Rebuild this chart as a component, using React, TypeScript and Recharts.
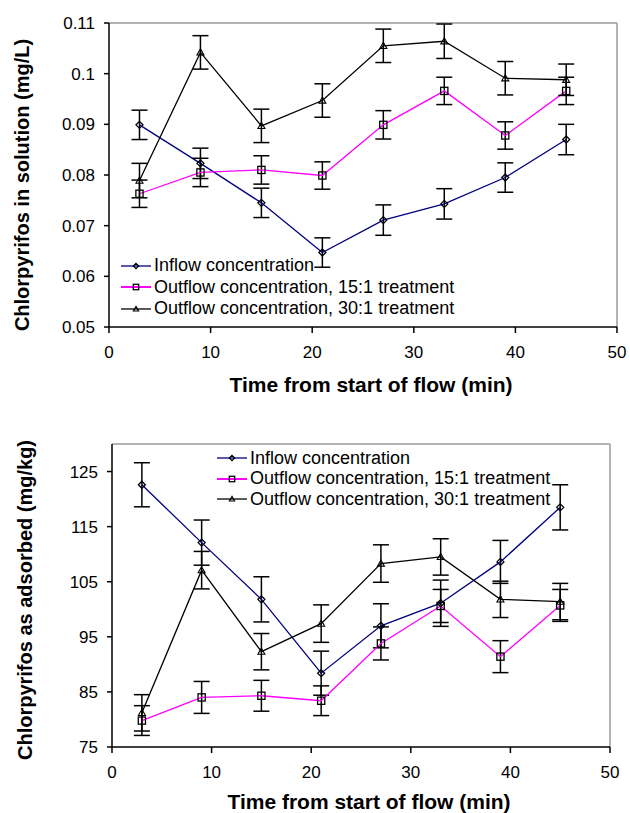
import { LineChart, Line, XAxis, YAxis, ErrorBar, ReferenceLine, Legend } from 'recharts';

const FONT = '"Liberation Sans", Arial, Helvetica, sans-serif';

// sampling times (min)
const times = [3, 9, 15, 21, 27, 33, 39, 45];
const xTicks = [0, 10, 20, 30, 40, 50];

// chlorpyrifos in solution (mg/L)
const solInflow = [0.0899, 0.0823, 0.0745, 0.0647, 0.0711, 0.0743, 0.0795, 0.087];
const solInflowErr = [0.0029, 0.003, 0.0029, 0.0029, 0.003, 0.003, 0.0029, 0.003];
const sol15 = [0.0763, 0.0805, 0.081, 0.0799, 0.0899, 0.0966, 0.0878, 0.0966];
const sol15Err = [0.0027, 0.0028, 0.0028, 0.0027, 0.0028, 0.0027, 0.0027, 0.0027];
const sol30 = [0.0789, 0.1042, 0.0897, 0.0947, 0.1055, 0.1064, 0.0991, 0.0988];
const sol30Err = [0.0034, 0.0033, 0.0033, 0.0033, 0.0033, 0.0034, 0.0033, 0.0031];
const solTicks = [0.05, 0.06, 0.07, 0.08, 0.09, 0.1, 0.11];

// chlorpyrifos as adsorbed (mg/kg)
const adsInflow = [122.6, 112.1, 101.8, 88.4, 97.0, 101.1, 108.6, 118.5];
const adsInflowErr = [4.0, 4.1, 4.1, 4.0, 4.0, 4.2, 3.9, 4.1];
const ads15 = [79.8, 84.0, 84.3, 83.4, 93.8, 100.6, 91.4, 100.7];
const ads15Err = [2.7, 2.9, 2.8, 2.7, 3.0, 3.0, 2.9, 2.9];
const ads30 = [81.2, 107.1, 92.3, 97.4, 108.3, 109.5, 101.8, 101.4];
const ads30Err = [3.3, 3.4, 3.3, 3.4, 3.4, 3.3, 3.3, 3.3];
const adsTicks = [75, 85, 95, 105, 115, 125];

const seriesDefs = [
  { key: 'inflow', name: 'Inflow concentration', color: '#000080', marker: 'diamond' },
  { key: 'out15', name: 'Outflow concentration, 15:1 treatment', color: '#ff00ff', marker: 'square' },
  { key: 'out30', name: 'Outflow concentration, 30:1 treatment', color: '#000000', marker: 'triangle' },
];

const solData = times.map((t, i) => ({
  t,
  inflow: solInflow[i], inflowErr: solInflowErr[i],
  out15: sol15[i], out15Err: sol15Err[i],
  out30: sol30[i], out30Err: sol30Err[i],
}));

const adsData = times.map((t, i) => ({
  t,
  inflow: adsInflow[i], inflowErr: adsInflowErr[i],
  out15: ads15[i], out15Err: ads15Err[i],
  out30: ads30[i], out30Err: ads30Err[i],
}));

function Marker({ cx, cy, type, s = 1 }: { cx: number; cy: number; type: string; s?: number }) {
  if (cx == null || cy == null) return null;
  if (type === 'diamond') {
    const r = 3.5 * s;
    return <path d={`M${cx},${cy - r}L${cx + r},${cy}L${cx},${cy + r}L${cx - r},${cy}Z`} fill="none" stroke="#000" strokeWidth={1.3} />;
  }
  if (type === 'square') {
    const r = 3.6 * s;
    return <rect x={cx - r} y={cy - r} width={2 * r} height={2 * r} fill="none" stroke="#000" strokeWidth={1.3} />;
  }
  const r = 3.5 * s;
  return <path d={`M${cx},${cy - r}L${cx + r},${cy + r * 0.75}L${cx - r},${cy + r * 0.75}Z`} fill="none" stroke="#000" strokeWidth={1.1} />;
}

function LegendBox({ iconW, rowH }: { iconW: number; rowH: number }) {
  return (
    <div style={{ fontFamily: FONT, fontSize: 18, color: '#000' }}>
      {seriesDefs.map((s) => (
        <div key={s.key} style={{ display: 'flex', alignItems: 'center', height: rowH, whiteSpace: 'nowrap' }}>
          <svg width={iconW} height={12} style={{ display: 'block' }}>
            <line x1={0} y1={6} x2={iconW} y2={6} stroke={s.color} strokeWidth={s.key === 'out15' ? 2 : 1.3} />
            <Marker cx={iconW / 2} cy={6} type={s.marker} s={0.75} />
          </svg>
          <span style={{ marginLeft: 3 }}>{s.name}</span>
        </div>
      ))}
    </div>
  );
}

type PanelProps = {
  data: any[];
  width: number;
  height: number;
  margin: { top: number; right: number; bottom: number; left: number };
  xAxisHeight: number;
  yDomain: [number, number];
  yTicks: number[];
  yTitle: string;
  yTitlePos: [number, number];
  xTitlePos: [number, number];
  legendPos: { left: number; top: number; iconW: number; rowH: number };
};

function Panel(p: PanelProps) {
  const axisStyle = { stroke: '#000', strokeWidth: 1.5 };
  return (
    <LineChart width={p.width} height={p.height} data={p.data} margin={p.margin}>
      <XAxis
        dataKey="t"
        type="number"
        domain={[0, 50]}
        ticks={xTicks}
        height={p.xAxisHeight}
        tickSize={6}
        tickMargin={13}
        axisLine={axisStyle}
        tickLine={axisStyle}
        tick={{ fill: '#000', fontSize: 17, fontFamily: FONT }}
        label={{
          content: () => (
            <text x={p.xTitlePos[0]} y={p.xTitlePos[1]} textAnchor="middle" fontFamily={FONT} fontSize={21} fontWeight="bold" fill="#000">
              Time from start of flow (min)
            </text>
          ),
        }}
      />
      <YAxis
        type="number"
        domain={p.yDomain}
        ticks={p.yTicks}
        width={60}
        tickSize={5}
        tickMargin={9}
        axisLine={axisStyle}
        tickLine={axisStyle}
        tick={{ fill: '#000', fontSize: 17, fontFamily: FONT }}
        tickFormatter={(v: number) => String(Number(v.toFixed(2)))}
        label={{
          content: () => (
            <text
              x={p.yTitlePos[0]}
              y={p.yTitlePos[1]}
              textAnchor="middle"
              transform={`rotate(-90 ${p.yTitlePos[0]} ${p.yTitlePos[1]})`}
              fontFamily={FONT}
              fontSize={20}
              fontWeight="bold"
              fill="#000"
            >
              {p.yTitle}
            </text>
          ),
        }}
      />
      <ReferenceLine y={p.yDomain[1]} stroke="#9a9a9a" strokeWidth={1.5} />
      <ReferenceLine x={50} stroke="#9a9a9a" strokeWidth={1.5} />
      <Legend
        layout="vertical"
        align="center"
        verticalAlign="middle"
        wrapperStyle={{ left: p.legendPos.left, top: p.legendPos.top, width: 'auto', bottom: 'auto', right: 'auto' }}
        content={() => <LegendBox iconW={p.legendPos.iconW} rowH={p.legendPos.rowH} />}
      />
      {seriesDefs.map((s) => (
        <Line
          key={s.key}
          dataKey={s.key}
          name={s.name}
          stroke={s.color}
          strokeWidth={1.3}
          isAnimationActive={false}
          dot={(props: any) => <Marker key={`${s.key}-${props.index}`} cx={props.cx} cy={props.cy} type={s.marker} />}
          activeDot={false}
        >
          <ErrorBar dataKey={`${s.key}Err`} width={8} stroke="#000" strokeWidth={1.5} direction="y" />
        </Line>
      ))}
    </LineChart>
  );
}

export default function App() {
  return (
    <div style={{ position: 'absolute', left: 0, top: 0, width: 630, height: 813, background: '#fff' }}>
      <div style={{ position: 'absolute', left: 0, top: 0 }}>
        <Panel
          data={solData}
          width={630}
          height={400}
          margin={{ top: 23, right: 13, bottom: 0, left: 49 }}
          xAxisHeight={73}
          yDomain={[0.05, 0.11]}
          yTicks={solTicks}
          yTitle="Chlorpyrifos in solution (mg/L)"
          yTitlePos={[29, 185]}
          xTitlePos={[371, 392]}
          legendPos={{ left: 121, top: 255, iconW: 30, rowH: 21.5 }}
        />
      </div>
      <div style={{ position: 'absolute', left: 0, top: 400 }}>
        <Panel
          data={adsData}
          width={630}
          height={413}
          margin={{ top: 44, right: 20, bottom: 0, left: 52 }}
          xAxisHeight={66}
          yDomain={[75, 130]}
          yTicks={adsTicks}
          yTitle="Chlorpyrifos as adsorbed (mg/kg)"
          yTitlePos={[32, 600 - 400]}
          xTitlePos={[369, 409]}
          legendPos={{ left: 217, top: 48, iconW: 30, rowH: 20.5 }}
        />
      </div>
    </div>
  );
}
